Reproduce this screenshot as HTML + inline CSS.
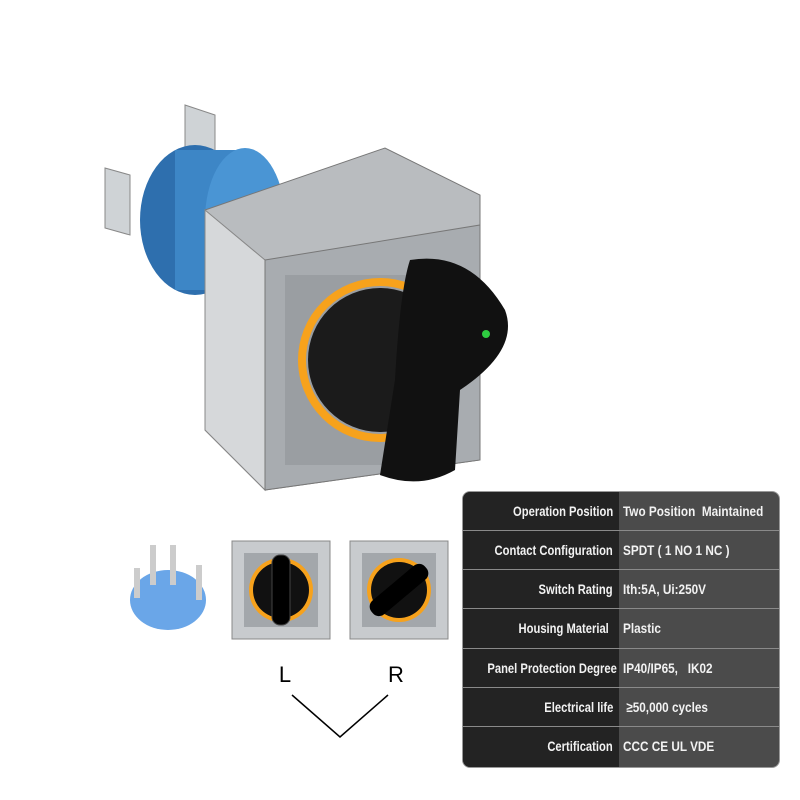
<!DOCTYPE html>
<html><head><style>
body{margin:0;width:800px;height:800px;background:#fff;position:relative;overflow:hidden;font-family:"Liberation Sans",sans-serif}
.t{position:absolute;left:462px;top:491px;width:318px;height:277px;border-radius:8px;overflow:hidden;background:#4b4b4b;border:1px solid #999;box-sizing:border-box}
.l{position:absolute;left:0;top:0;width:156px;height:100%;background:#232323}
.r{position:absolute;left:0;width:100%;height:39px;font-weight:bold;font-size:14px;color:#f2f2f2;border-bottom:1px solid #8a8a8a;box-sizing:border-box;white-space:nowrap}
.r span{position:absolute;top:11px}
.a{right:166px;transform:scaleX(0.8);transform-origin:right center}
.b{left:160px;transform:scaleX(0.84);transform-origin:left center}
</style></head><body>
<svg width="800" height="800" style="position:absolute;left:0;top:0">
<polygon points="185,105 215,115 215,170 185,160" fill="#cfd3d6" stroke="#888"/>
<polygon points="105,168 130,175 130,235 105,228" fill="#cfd3d6" stroke="#888"/>
<ellipse cx="195" cy="220" rx="55" ry="75" fill="#2e6fae"/>
<rect x="175" y="150" width="70" height="140" fill="#3d86c6"/>
<ellipse cx="245" cy="220" rx="40" ry="72" fill="#4a95d4"/>
<polygon points="205,210 385,148 480,195 480,460 265,490 205,430" fill="#b9bcbf" stroke="#777"/>
<polygon points="205,210 265,260 265,490 205,430" fill="#d6d8da" stroke="#888"/>
<polygon points="265,260 480,225 480,460 265,490" fill="#a8acb0" stroke="#777"/>
<rect x="285" y="275" width="170" height="190" fill="#9a9ea2"/>
<circle cx="380" cy="360" r="78" fill="none" stroke="#f7a21c" stroke-width="8"/>
<circle cx="380" cy="360" r="72" fill="#1b1b1b"/>
<path d="M410,260 Q470,250 505,310 Q520,350 460,390 L455,470 Q420,490 380,475 L395,380 Q400,290 410,260Z" fill="#111"/>
<circle cx="486" cy="334" r="4" fill="#2ecc40"/>
<ellipse cx="168" cy="600" rx="38" ry="30" fill="#6aa6e8"/>
<rect x="150" y="545" width="6" height="40" fill="#ccc"/><rect x="170" y="545" width="6" height="40" fill="#ccc"/><rect x="196" y="565" width="6" height="35" fill="#ccc"/><rect x="134" y="568" width="6" height="30" fill="#ccc"/>
<rect x="232" y="541" width="98" height="98" fill="#c8cbce" stroke="#888"/>
<rect x="244" y="553" width="74" height="74" fill="#a3a7ab"/>
<circle cx="281" cy="590" r="32" fill="#f7a21c"/><circle cx="281" cy="590" r="28" fill="#111"/>
<rect x="272" y="555" width="18" height="70" rx="8" fill="#000" stroke="#444"/>
<rect x="350" y="541" width="98" height="98" fill="#c8cbce" stroke="#888"/>
<rect x="362" y="553" width="74" height="74" fill="#a3a7ab"/>
<circle cx="399" cy="590" r="32" fill="#f7a21c"/><circle cx="399" cy="590" r="28" fill="#111"/>
<rect x="390" y="555" width="18" height="70" rx="8" fill="#000" transform="rotate(50 399 590)"/>
<text x="285" y="682" font-family="Liberation Sans" font-size="22" text-anchor="middle">L</text>
<text x="396" y="682" font-family="Liberation Sans" font-size="22" text-anchor="middle">R</text>
<polyline points="292,695 340,737 388,695" fill="none" stroke="#000" stroke-width="1.5"/>
</svg>
<div class="t"><div class="l"></div>
<div class="r" style="top:0"><span class="a">Operation Position</span><span class="b">Two Position&nbsp; Maintained</span></div>
<div class="r" style="top:39px"><span class="a">Contact Configuration</span><span class="b">SPDT ( 1 NO 1 NC )</span></div>
<div class="r" style="top:78px"><span class="a">Switch Rating</span><span class="b">Ith:5A, Ui:250V</span></div>
<div class="r" style="top:117px;height:40px"><span class="a" style="right:170px">Housing Material</span><span class="b">Plastic</span></div>
<div class="r" style="top:157px"><span class="a" style="right:162px">Panel Protection Degree</span><span class="b">IP40/IP65,&nbsp;&nbsp; IK02</span></div>
<div class="r" style="top:196px"><span class="a">Electrical life</span><span class="b">&nbsp;≥50,000 cycles</span></div>
<div class="r" style="top:235px;border:none;height:42px"><span class="a">Certification</span><span class="b">CCC CE UL VDE</span></div>
</div>
</body></html>
